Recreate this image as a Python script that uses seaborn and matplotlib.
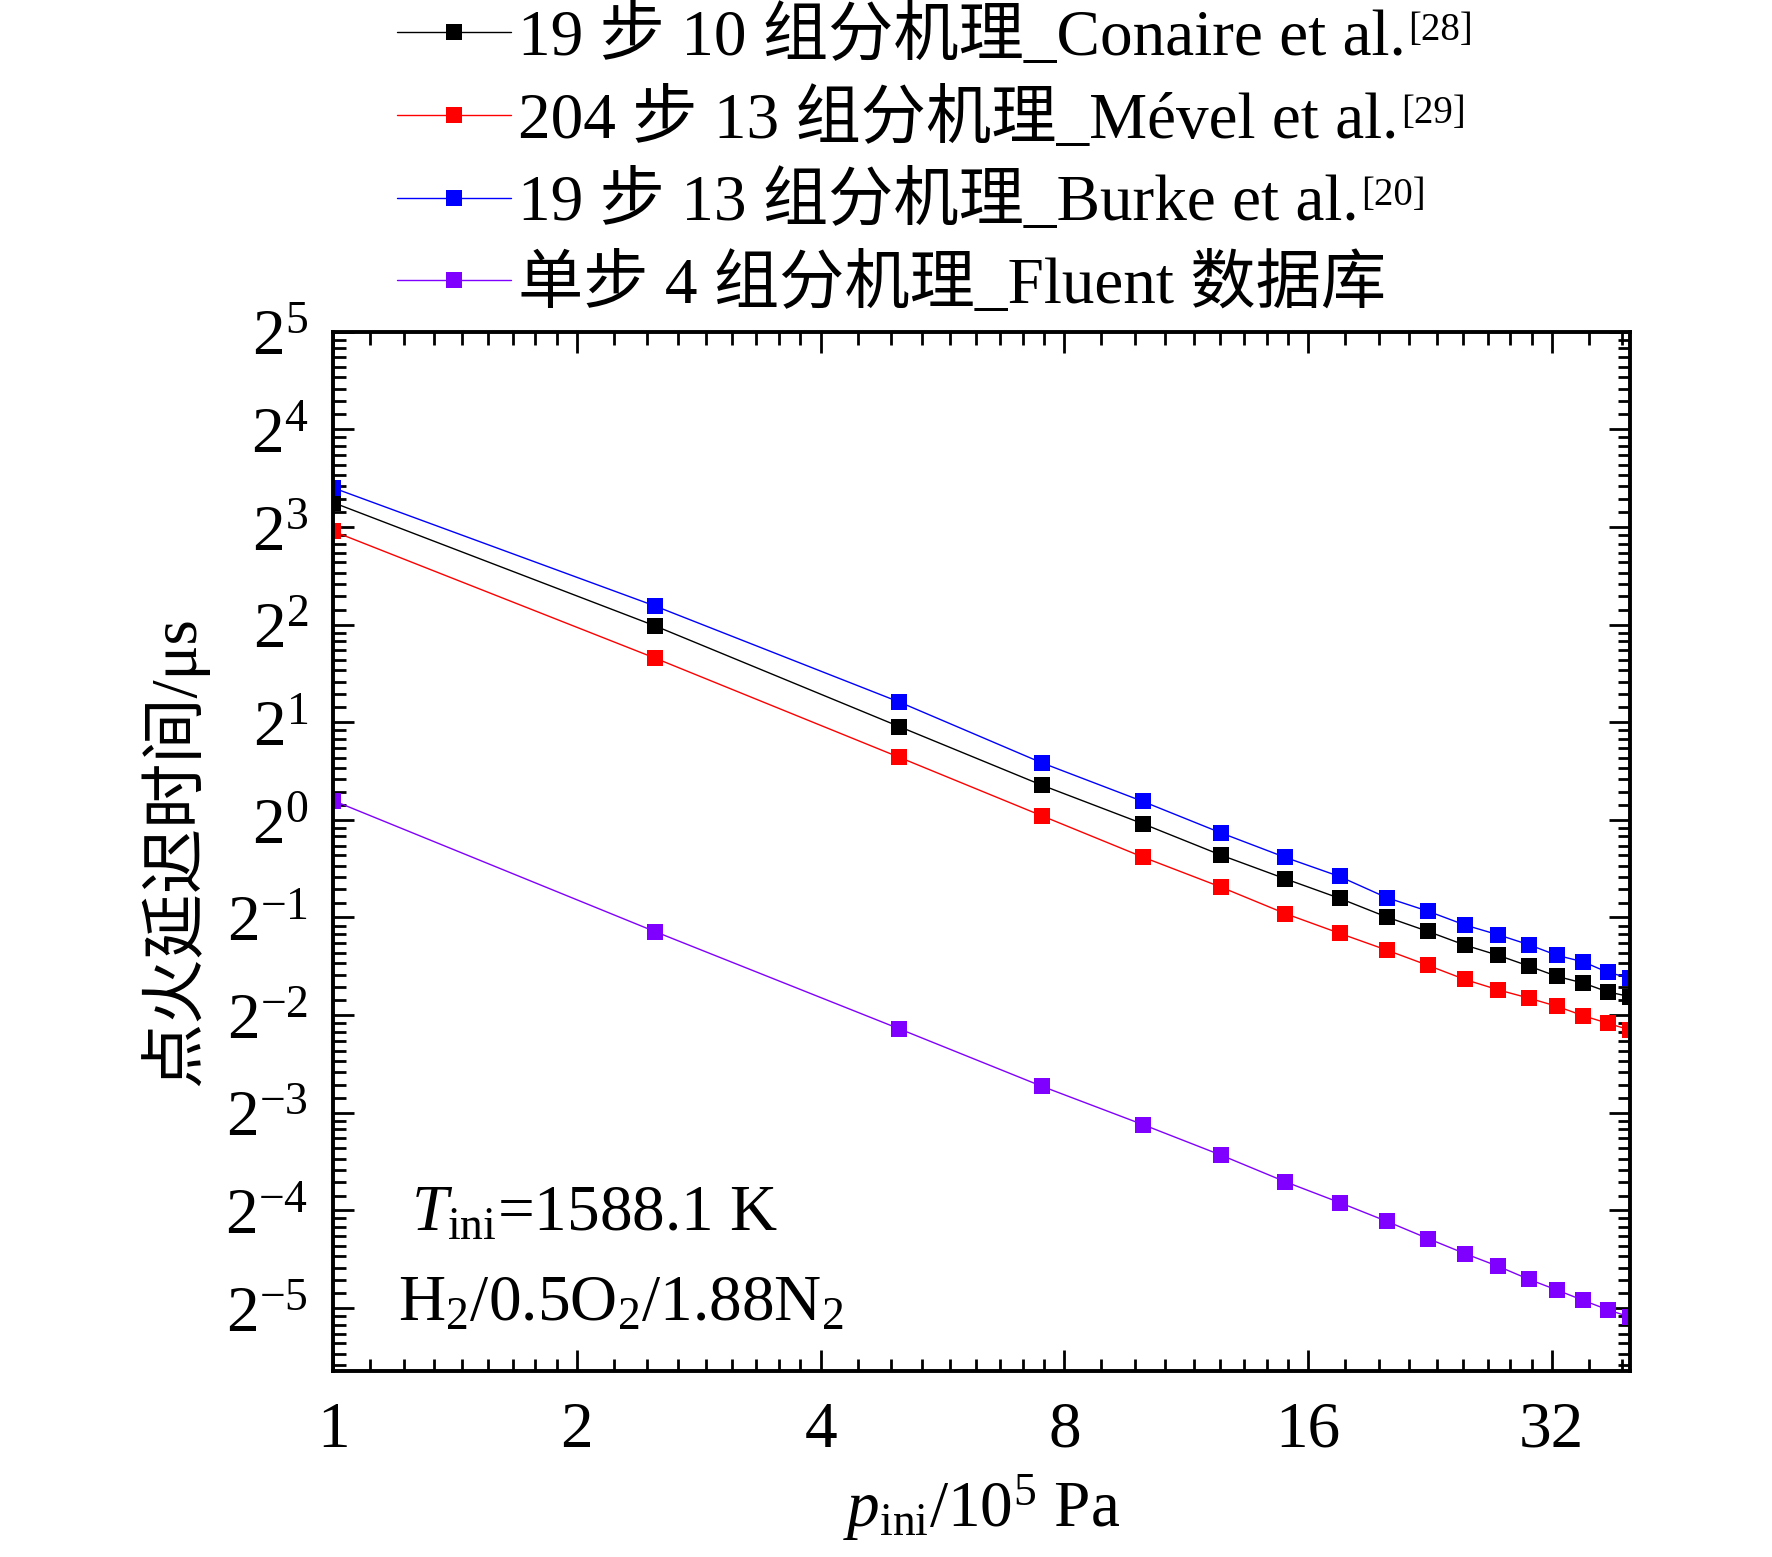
import numpy as np
import pandas as pd
import matplotlib
matplotlib.use('Agg')
import matplotlib.pyplot as plt
import seaborn as sns
from matplotlib.ticker import FixedLocator, FixedFormatter, NullFormatter

# 初始压力 p_ini / 10^5 Pa
p_ini = [1, 2.5, 5, 7.5, 10, 12.5, 15, 17.5, 20, 22.5, 25, 27.5, 30, 32.5, 35, 37.5, 40]

# 点火延迟时间 / μs
conaire = [9.51, 3.96, 1.94, 1.28, 0.973, 0.778, 0.658, 0.573, 0.502, 0.453,
           0.411, 0.382, 0.354, 0.329, 0.314, 0.295, 0.285]
mevel = [7.76, 3.15, 1.56, 1.03, 0.768, 0.620, 0.514, 0.447, 0.397, 0.356,
         0.322, 0.299, 0.282, 0.266, 0.249, 0.236, 0.225]
burke = [10.56, 4.56, 2.31, 1.50, 1.14, 0.911, 0.766, 0.669, 0.576, 0.523,
         0.474, 0.442, 0.412, 0.382, 0.365, 0.339, 0.325]
fluent = [1.147, 0.452, 0.227, 0.151, 0.115, 0.0925, 0.0766, 0.0661, 0.0579, 0.0512,
          0.0460, 0.0420, 0.0383, 0.0355, 0.0330, 0.0309, 0.0293]

labels = ['19 步 10 组分机理_Conaire et al.',
          '204 步 13 组分机理_Mével et al.',
          '19 步 13 组分机理_Burke et al.',
          '单步 4 组分机理_Fluent 数据库']
refs = ['[28]', '[29]', '[20]', '']
colors = ['#000000', '#ff0000', '#0000ff', '#8000ff']

x_ticks = [1, 2, 4, 8, 16, 32]
y_exps = list(range(-5, 6))

df = pd.DataFrame({
    'p': p_ini * 4,
    'tau': conaire + mevel + burke + fluent,
    'mech': np.repeat(labels, len(p_ini)),
})

sns.set_theme(style='ticks')
plt.rcParams['font.family'] = ['Liberation Serif', 'Noto Sans CJK SC']
plt.rcParams['mathtext.fontset'] = 'custom'
plt.rcParams['mathtext.rm'] = 'Liberation Serif'
plt.rcParams['mathtext.it'] = 'Liberation Serif:italic'
plt.rcParams['axes.unicode_minus'] = True
for k in ['text.color', 'axes.labelcolor', 'xtick.color', 'ytick.color', 'axes.edgecolor']:
    plt.rcParams[k] = 'black'

fs = 47
fig, ax = plt.subplots(figsize=(17.72, 15.57), dpi=100)
fig.subplots_adjust(left=0.188, right=0.920, bottom=0.1195, top=0.787)

sns.lineplot(data=df, x='p', y='tau', hue='mech', hue_order=labels,
             palette=dict(zip(labels, colors)), marker='s', markersize=12,
             markeredgewidth=0, linewidth=1, estimator=None, sort=False,
             legend=False, ax=ax)

ax.set_xscale('log', base=2)
ax.set_yscale('log', base=2)
ax.set_xlim(1, 40)
ax.set_ylim(0.02, 32)

# 主刻度
ax.xaxis.set_major_locator(FixedLocator(x_ticks))
ax.xaxis.set_major_formatter(FixedFormatter([str(v) for v in x_ticks]))
ax.yaxis.set_major_locator(FixedLocator([2.0 ** e for e in y_exps]))
ax.yaxis.set_major_formatter(FixedFormatter(['$2^{%d}$' % e for e in y_exps]))

# 次刻度: 每个倍程内 8 个线性刻度
def minor_ticks(n0, n1):
    return [2.0 ** n * (1 + k / 9) for n in range(n0, n1) for k in range(1, 9)]

ax.xaxis.set_minor_locator(FixedLocator(minor_ticks(0, 6)))
ax.yaxis.set_minor_locator(FixedLocator(minor_ticks(-6, 5)))
ax.xaxis.set_minor_formatter(NullFormatter())
ax.yaxis.set_minor_formatter(NullFormatter())

ax.tick_params(which='both', direction='in', top=True, right=True, width=2, color='black')
ax.tick_params(which='major', length=15, labelsize=fs, labelcolor='black')
ax.tick_params(which='minor', length=9)
ax.tick_params(axis='x', which='major', pad=22)
ax.tick_params(axis='y', which='major', pad=18)
for s in ax.spines.values():
    s.set_linewidth(2.8)
    s.set_color('black')

ax.set_xlabel(r'$p_{\mathrm{ini}}$/10$^5$ Pa', fontsize=fs, labelpad=8)
ax.set_ylabel('点火延迟时间/μs', fontsize=fs, labelpad=12)

ax.text(0.06, 0.136, r'$T_{\mathrm{ini}}$=1588.1 K', transform=ax.transAxes,
        fontsize=fs, va='baseline', ha='left')
ax.text(0.05, 0.049, r'H$_2$/0.5O$_2$/1.88N$_2$', transform=ax.transAxes,
        fontsize=fs, va='baseline', ha='left')

leg = fig.legend(handles=ax.lines[:4], labels=labels, loc='upper left',
                 bbox_to_anchor=(0.224, 0.996), frameon=False, fontsize=fs,
                 handlelength=1.75, handletextpad=0.1, labelspacing=0.3,
                 borderpad=0.0, borderaxespad=0.0)

# 参考文献上标: 先排版, 再按图例文字位置放置
fig.canvas.draw()
renderer = fig.canvas.get_renderer()
W, H = fig.bbox.width, fig.bbox.height
for t, r in zip(leg.get_texts(), refs):
    if r:
        bb = t.get_window_extent(renderer)
        fig.text((bb.x1 + 3) / W, (bb.y1 - 6) / H, r, fontsize=28,
                 va='top', ha='left')

fig.savefig('out.png', dpi=100)
